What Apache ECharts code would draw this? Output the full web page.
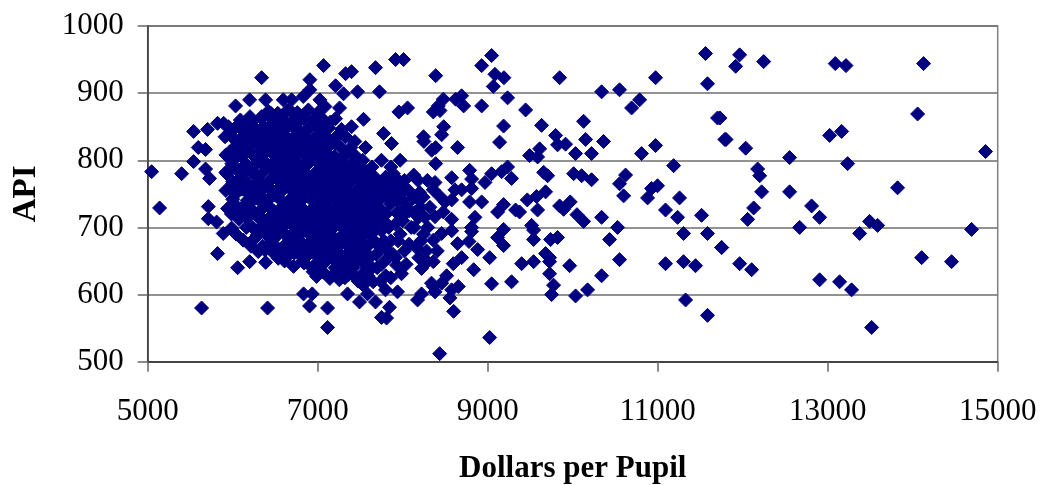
<!DOCTYPE html>
<html><head><meta charset="utf-8">
<style>html,body{margin:0;padding:0;background:#fff}#c{width:1042px;height:485px}</style>
<script src="https://cdn.jsdelivr.net/npm/echarts@6/dist/echarts.min.js"></script></head>
<body><div id="c"></div>
<script>
const xTitle = "Dollars per Pupil";
const yTitle = "API";
const rightPoints = [[11964,957],[11917,940],[12247,947],[13089,944],[13215,941],[14128,944],[14058,869],[11733,863],[11804,831],[12035,818],[13023,837],[13164,843],[12552,804],[13234,795],[14857,813],[12176,787],[12200,777],[12223,753],[12552,753],[13822,759],[12129,729],[12058,712],[12811,732],[12905,715],[12670,700],[13493,709],[13587,703],[13376,691],[14693,697],[11753,670],[11964,646],[12105,637],[14105,655],[14457,649],[12905,622],[13140,619],[13281,607],[13517,551]];
const midPoints = [[9046,956],[8929,941],[8388,926],[9085,928],[9191,923],[9066,910],[9846,923],[10975,923],[11563,959],[11586,914],[10340,902],[10551,905],[10787,890],[10693,878],[9234,893],[8929,881],[9446,875],[8693,896],[8717,881],[8623,891],[8478,891],[8419,881],[8360,872],[8439,874],[9187,851],[9634,852],[10128,858],[11704,863],[11790,831],[9799,837],[8482,850],[8458,838],[8646,819],[8388,819],[8341,815],[9140,827],[10152,831],[10363,828],[9822,823],[9916,824],[10034,810],[10222,810],[10810,810],[10975,822],[11187,792],[9611,817],[9493,807],[9587,805],[8388,795],[9234,790],[9164,783],[9046,780],[8787,785],[8576,774],[9281,773],[9658,782],[9705,777],[10011,780],[10105,777],[10222,771],[10622,778],[10551,765],[10998,762],[10928,758],[10599,747],[10881,744],[11257,744],[8380,767],[8811,772],[8811,758],[8968,767],[8693,756],[8615,756],[9681,753],[9575,746],[9466,741],[8929,738],[8787,738],[8576,741],[8439,746],[8497,738],[8360,756],[9187,734],[9117,723],[9328,726],[9375,723],[9587,726],[9846,732],[9893,727],[9971,738],[11092,726],[11234,715],[11516,718],[10050,719],[10128,709],[10340,715],[8850,715],[8576,712],[8478,723],[8380,716],[9517,703],[9187,697],[8811,700],[10528,700],[11304,691],[11586,691],[11751,670],[9540,696],[9117,685],[9540,682],[9822,685],[9740,682],[10434,682],[9187,673],[8646,676],[8780,679],[8882,667],[8811,694],[8576,695],[8458,691],[8360,681],[8407,665],[9023,655],[8693,655],[8595,646],[8835,637],[8360,649],[9681,661],[9728,655],[9728,649],[9399,646],[9540,649],[9964,643],[10551,652],[11092,646],[11304,649],[11445,643],[9728,631],[10340,628],[9281,619],[9046,616],[9775,614],[10175,607],[9752,600],[10034,598],[11328,592],[11586,569],[8517,628],[8458,617],[8360,612],[8654,612],[8576,607],[8380,604],[8556,595],[8599,575],[9023,536],[8435,512]];
const edgePoints = [[5046,783],[5399,780],[5540,798],[5681,787],[5728,773],[5595,819],[5681,816],[5540,843],[5705,846],[5822,855],[5893,855],[6034,849],[6034,881],[6199,890],[6340,923],[6387,890],[6203,865],[6595,890],[6693,890],[6908,920],[7069,941],[6908,905],[6830,895],[7210,911],[7304,899],[7469,902],[7328,929],[7398,932],[7680,938],[7916,950],[8010,950],[7727,902],[7955,872],[8057,878],[8245,835],[8250,828],[7775,840],[7869,825],[7539,861],[7398,850],[7257,878],[7210,862],[7026,890],[7085,880],[6986,865],[6830,865],[7437,828],[7563,819],[5140,729],[5634,580],[6410,580],[5822,661],[6058,640],[6199,649],[6387,648],[6536,654],[6716,642],[6987,627],[7143,624],[5889,691],[6124,681],[6261,684],[6379,666],[5713,731],[5713,713],[5811,708],[5987,699],[6834,601],[6936,601],[6904,583],[7116,580],[7116,551],[7351,601],[7492,589],[7680,589],[7586,601],[7845,581],[7751,566],[7810,565],[7798,607],[7939,604],[8175,592],[8222,601],[8339,617],[8222,639],[7986,631],[7653,619],[7535,614],[8290,649],[7927,644],[7300,636],[6947,634]];
const densePoints = [
[5910,835],[5960,812],[5930,780],[5985,755],[5940,728],[6010,800],[6060,770],[6020,735],[6075,712],[6040,690],[6110,845],[6150,815],[6120,790],[6170,752],[6105,725],[6160,700],[6215,672],[6240,840],[6270,805],[6215,782],[6255,760],[6230,722],[6280,695],[6300,664],[6340,865],[6385,835],[6330,812],[6395,790],[6345,765],[6390,740],[6335,715],[6400,690],[6350,672],[6450,870],[6490,845],[6440,818],[6505,800],[6455,772],[6500,748],[6445,728],[6510,702],[6460,680],[6495,660],[6560,862],[6600,838],[6545,815],[6610,785],[6555,760],[6605,735],[6550,710],[6615,690],[6565,668],[6610,650],[6670,875],[6710,850],[6660,825],[6725,800],[6665,778],[6720,752],[6660,730],[6715,705],[6670,682],[6725,662],[6780,858],[6820,835],[6770,812],[6835,790],[6775,765],[6825,742],[6770,718],[6830,695],[6780,672],[6825,650],[6880,845],[6935,818],[6885,798],[6940,775],[6890,750],[6945,728],[6885,705],[6940,682],[6890,660],[6935,640],[7000,850],[7045,828],[6990,800],[7050,782],[7000,755],[7055,735],[6995,712],[7050,690],[7000,665],[7045,645],[7100,835],[7150,805],[7095,780],[7155,760],[7105,738],[7150,712],[7095,692],[7155,670],[7100,650],[7205,825],[7255,800],[7200,772],[7260,750],[7205,728],[7255,705],[7200,682],[7260,660],[7205,640],[7255,622],[7310,790],[7360,765],[7305,742],[7365,720],[7310,698],[7360,675],[7305,652],[7365,630],[7420,780],[7470,752],[7415,730],[7475,708],[7420,685],[7470,662],[7415,640],[7475,620],[7530,800],[7580,775],[7525,748],[7590,722],[7530,700],[7585,672],[7530,648],[7590,628],[7640,790],[7690,765],[7635,738],[7695,715],[7645,692],[7690,660],[7640,640],[7750,800],[7800,775],[7745,745],[7805,720],[7750,695],[7800,668],[7750,645],[7740,620],[7860,790],[7910,760],[7855,735],[7915,705],[7860,680],[7915,655],[7860,625],[7970,800],[8020,770],[7965,745],[8025,720],[7970,690],[8020,665],[8070,755],[8130,778],[8080,725],[8135,700],[8075,675],[8180,770],[8240,745],[8185,715],[8245,690],[8190,655],[8290,770],[8320,730],[8295,700],[8280,665],
[5950,850],[6000,765],[5985,720],[6090,828],[6130,760],[6190,828],[6195,735],[6290,775],[6310,745],[6300,830],[6365,850],[6420,760],[6425,705],[6480,825],[6530,775],[6535,725],[6590,810],[6640,770],[6640,715],[6645,670],[6700,825],[6750,775],[6745,730],[6750,690],[6800,745],[6855,810],[6855,765],[6860,705],[6860,665],[6910,770],[6915,725],[6910,690],[6965,760],[6970,700],[6970,660],[7020,775],[7025,725],[7025,675],[7075,800],[7075,750],[7080,705],[7075,660],[7125,770],[7130,725],[7130,680],[7175,790],[7180,745],[7180,700],[7180,655],[7230,775],[7230,715],[7235,670],[7285,770],[7285,725],[7285,680],[7335,755],[7335,705],[7340,660],[7390,775],[7390,690],[7395,650],[7445,740],[7445,695],[7500,770],[7500,725],[7505,675],[7555,740],[7555,690],[7560,650],[7610,755],[7615,705],[7670,775],[7665,725],[7665,680],[7720,740],[7725,700],[7775,760],[7780,680],[7830,745],[7835,700],[7890,780],[7885,660],[7940,740],[7945,680],[7995,760],[8000,710],[8050,735],[8100,700],[8155,745],[8210,730],[8260,715],[8160,670],[8215,680]
];
const corePoints = [
[6420,873],[6530,870],[6640,874],[6760,871],[6890,875],[7010,872],
[6090,860],[6230,858],[6340,862],[6480,859],[6590,861],[6700,858],[6830,862],[6950,859],[7070,860],[7150,857],
[6150,848],[6280,846],[6420,849],[6530,847],[6650,850],[6770,846],[6900,849],[7020,847],[7130,848],[7280,846],
[5990,835],[6100,833],[6220,836],[6350,834],[6470,837],[6590,833],[6720,835],[6840,836],[6960,833],[7080,836],[7210,834],[7330,835],
[6040,822],[6170,820],[6290,823],[6410,821],[6530,824],[6660,820],[6780,822],[6900,823],[7020,820],[7140,822],[7260,821],[7390,819],
[5920,808],[6030,810],[6110,806],[6230,809],[6350,807],[6470,810],[6600,806],[6720,808],[6840,809],[6960,807],[7090,810],[7200,806],[7320,808],[7440,807],
[5990,795],[6170,793],[6290,796],[6410,794],[6540,797],[6660,793],[6780,795],[6900,796],[7020,794],[7140,797],[7270,793],[7390,795],[7490,794],
[5920,782],[6060,784],[6110,780],[6230,783],[6350,781],[6480,784],[6600,780],[6720,782],[6840,783],[6970,781],[7080,784],[7210,780],[7330,782],[7450,781],[7560,783],
[6000,768],[6170,766],[6290,769],[6420,767],[6540,770],[6660,766],[6780,768],[6910,769],[7030,767],[7150,770],[7270,766],[7380,768],[7510,767],[7620,769],[7730,766],[7840,768],[7950,770],
[5920,755],[6060,753],[6110,757],[6230,754],[6350,756],[6480,753],[6600,757],[6720,755],[6840,754],[6970,756],[7080,753],[7210,757],[7330,755],[7450,754],[7560,756],[7680,753],[7790,755],[7900,748],[8000,752],
[6000,742],[6170,740],[6290,743],[6420,741],[6540,744],[6660,740],[6780,742],[6910,743],[7030,741],[7150,744],[7270,740],[7380,742],[7510,741],[7620,743],[7730,728],[7850,760],[8110,742],[8200,752],
[6060,727],[6110,729],[6230,726],[6350,728],[6480,725],[6600,729],[6720,727],[6840,726],[6970,728],[7080,725],[7210,729],[7330,727],[7450,726],[7560,728],[7680,702],[7930,722],[8140,722],
[6170,714],[6290,716],[6420,713],[6540,717],[6660,713],[6780,715],[6910,716],[7030,714],[7150,717],[7270,713],[7380,715],[7510,714],[7620,690],[7790,708],[7990,725],
[6230,700],[6350,702],[6480,699],[6600,703],[6720,701],[6840,700],[6970,702],[7080,699],[7210,703],[7330,701],[7450,700],[7560,702],
[6290,689],[6420,686],[6540,690],[6660,686],[6780,688],[6910,689],[7030,687],[7150,690],[7270,686],[7380,688],[7510,687],
[6420,673],[6480,675],[6600,672],[6720,676],[6840,674],[6970,673],[7080,675],[7210,672],[7330,676],[7450,674],[7560,673],[7720,672],
[6540,662],[6660,659],[6780,660],[6910,662],[7030,660],[7150,663],[7270,650],[7380,661],[7510,660],[7620,656],[7830,655],
[6840,647],[6970,645],[7080,648],[7210,650],[7330,646],[7450,648],[7580,640],[7700,640],[7800,628],[8040,645],
[6960,636],[7060,634],[7200,632],[7320,625],[7430,628],[7520,630]
];
const allPoints = [...rightPoints, ...midPoints, ...edgePoints, ...densePoints, ...corePoints];
const font = '"Liberation Serif","Times New Roman",serif';
const chart = echarts.init(document.getElementById('c'), null, {renderer:'canvas'});
chart.setOption({
  animation:false,
  backgroundColor:'#fff',
  grid:{left:147.7,right:44.3,top:26,bottom:123.3,show:true,borderColor:'#808080',borderWidth:1.5,backgroundColor:'transparent',outerBoundsMode:'none'},
  xAxis:{type:'value',min:5000,max:15000,interval:2000,
    name:xTitle,nameLocation:'middle',nameGap:92,
    nameTextStyle:{fontFamily:font,fontWeight:'bold',fontSize:31,color:'#000'},
    axisLine:{show:true,onZero:false,lineStyle:{color:'#333',width:1.5}},
    axisTick:{show:true,length:10,lineStyle:{color:'#666',width:1.5}},
    axisLabel:{fontFamily:font,fontSize:31,color:'#000',margin:35,showMinLabel:true,showMaxLabel:true,hideOverlap:false,formatter:v=>String(v)},
    splitLine:{show:false}},
  yAxis:{type:'value',min:500,max:1000,interval:100,
    name:yTitle,nameLocation:'middle',nameGap:105,nameRotate:90,
    nameTextStyle:{fontFamily:font,fontWeight:'bold',fontSize:33,color:'#000'},
    axisLine:{show:true,onZero:false,lineStyle:{color:'#333',width:1.5}},
    axisTick:{show:true,length:10,lineStyle:{color:'#666',width:1.5}},
    axisLabel:{fontFamily:font,fontSize:31,color:'#000',margin:24,formatter:v=>String(v)},
    splitLine:{show:true,lineStyle:{color:'#6e6e6e',width:1.5}}},
  series:[{type:'scatter',data:allPoints,symbol:'diamond',symbolSize:14,
    itemStyle:{color:'#000080',borderColor:'#000080',borderWidth:1,opacity:1},silent:true}]
});
</script></body></html>
